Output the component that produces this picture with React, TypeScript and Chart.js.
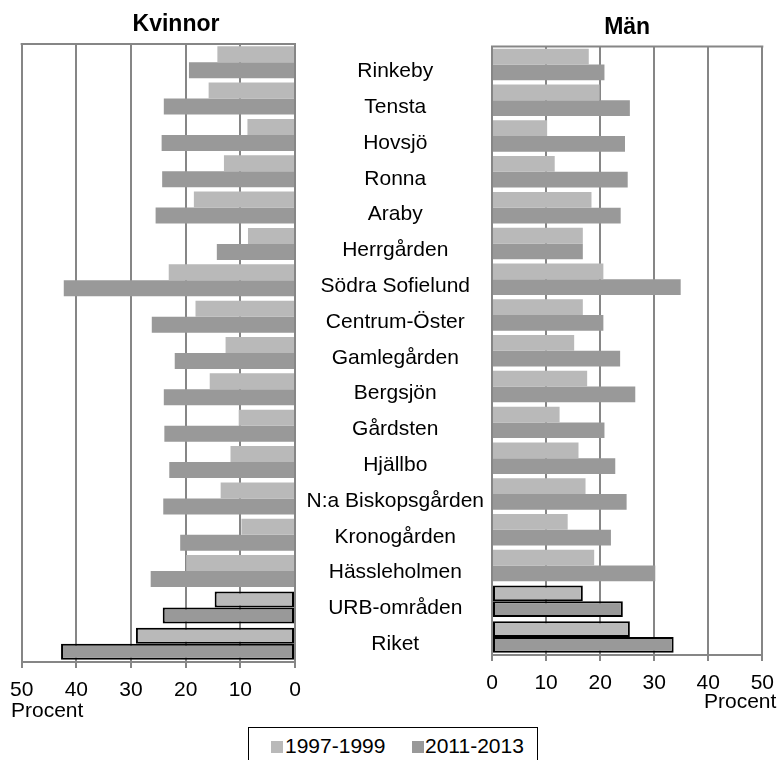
import React, { useEffect, useRef } from 'react';
import { Chart, registerables } from 'chart.js';

Chart.register(...registerables);

const categories = [
  'Rinkeby',
  'Tensta',
  'Hovsjö',
  'Ronna',
  'Araby',
  'Herrgården',
  'Södra Sofielund',
  'Centrum-Öster',
  'Gamlegården',
  'Bergsjön',
  'Gårdsten',
  'Hjällbo',
  'N:a Biskopsgården',
  'Kronogården',
  'Hässleholmen',
  'URB-områden',
  'Riket',
];

const seriesLabels = ['1997-1999', '2011-2013'];

const women1997 = [14.2, 15.8, 8.7, 13.0, 18.5, 8.6, 23.1, 18.2, 12.7, 15.6, 10.3, 11.8, 13.6, 9.8, 19.9, 14.7, 29.1];
const women2011 = [19.4, 24.0, 24.4, 24.3, 25.5, 14.3, 42.3, 26.2, 22.0, 24.0, 23.9, 23.0, 24.1, 21.0, 26.4, 24.2, 42.8];
const men1997 = [17.9, 19.9, 10.2, 11.6, 18.4, 16.8, 20.6, 16.8, 15.2, 17.6, 12.5, 16.0, 17.3, 14.0, 18.9, 16.8, 25.5];
const men2011 = [20.8, 25.5, 24.6, 25.1, 23.8, 16.8, 34.9, 20.6, 23.7, 26.5, 20.8, 22.8, 24.9, 22.0, 30.2, 24.2, 33.6];

const outlinedCategories = ['URB-områden', 'Riket'];

const axisMin = 0;
const axisMax = 50;
const axisStep = 10;

const panelTitles = ['Kvinnor', 'Män'];
const axisTitle = 'Procent';

const FONT = "'Liberation Sans', Arial, Helvetica, sans-serif";
const LIGHT = '#b9b9b9';
const DARK = '#999999';
const GRID = '#868686';

const frameTop = {
  id: 'frameTop',
  beforeDatasetsDraw(chart: any) {
    const { ctx, chartArea } = chart;
    ctx.save();
    ctx.strokeStyle = GRID;
    ctx.lineWidth = 2;
    ctx.beginPath();
    ctx.moveTo(chartArea.left - 1, chartArea.top);
    ctx.lineTo(chartArea.right + 1, chartArea.top);
    ctx.stroke();
    ctx.restore();
  },
};

function makeDatasets(early: number[], late: number[]) {
  const widths = categories.map((c) => (outlinedCategories.includes(c) ? 2 : 0));
  return [
    {
      label: seriesLabels[0],
      data: early,
      backgroundColor: LIGHT,
      borderColor: '#000000',
      borderWidth: widths,
      borderSkipped: false,
      categoryPercentage: 0.88,
      barPercentage: 1,
    },
    {
      label: seriesLabels[1],
      data: late,
      backgroundColor: DARK,
      borderColor: '#000000',
      borderWidth: widths,
      borderSkipped: false,
      categoryPercentage: 0.88,
      barPercentage: 1,
    },
  ];
}

function xScale(reverse: boolean) {
  return {
    type: 'linear',
    min: axisMin,
    max: axisMax,
    reverse,
    ticks: {
      stepSize: axisStep,
      color: '#000000',
      font: { family: FONT, size: 21 },
      padding: 10,
      maxRotation: 0,
    },
    grid: {
      color: GRID,
      lineWidth: 2,
      tickLength: 6,
      tickColor: GRID,
      tickWidth: 2,
    },
    border: { color: GRID, width: 2 },
    afterFit: (s: any) => {
      s.height = 40;
    },
  };
}

export default function App() {
  const leftRef = useRef<HTMLCanvasElement>(null);
  const rightRef = useRef<HTMLCanvasElement>(null);

  useEffect(() => {
    Chart.defaults.font.family = FONT;
    const left = new Chart(leftRef.current as HTMLCanvasElement, {
      type: 'bar',
      data: { labels: categories, datasets: makeDatasets(women1997, women2011) as any },
      plugins: [frameTop],
      options: {
        indexAxis: 'y',
        animation: false,
        responsive: false,
        maintainAspectRatio: false,
        layout: { padding: { left: 20, right: 0, top: 0, bottom: 0 } },
        plugins: {
          legend: { display: false },
          tooltip: { enabled: false },
          title: {
            display: true,
            text: panelTitles[0],
            color: '#000000',
            font: { family: FONT, size: 23, weight: 'bold' },
            padding: { top: 11, bottom: 5.4 },
          },
        },
        scales: {
          x: xScale(true) as any,
          y: {
            type: 'category',
            position: 'right',
            display: true,
            ticks: { display: false },
            grid: { display: false, drawTicks: false },
            border: { display: false },
            afterFit: (s: any) => {
              s.width = 37;
            },
          },
        },
      } as any,
    });

    const right = new Chart(rightRef.current as HTMLCanvasElement, {
      type: 'bar',
      data: { labels: categories, datasets: makeDatasets(men1997, men2011) as any },
      plugins: [frameTop],
      options: {
        indexAxis: 'y',
        animation: false,
        responsive: false,
        maintainAspectRatio: false,
        layout: { padding: { left: 0, right: 17, top: 0, bottom: 0 } },
        plugins: {
          legend: { display: false },
          tooltip: { enabled: false },
          title: {
            display: true,
            fullSize: false,
            text: panelTitles[1],
            color: '#000000',
            font: { family: FONT, size: 23, weight: 'bold' },
            padding: { top: 14, bottom: 5 },
          },
        },
        scales: {
          x: xScale(false) as any,
          y: {
            type: 'category',
            position: 'left',
            grid: { display: false, drawTicks: false },
            border: { display: true, color: GRID, width: 2 },
            ticks: {
              color: '#000000',
              font: { family: FONT, size: 21 },
              padding: 8,
              crossAlign: 'center',
              labelOffset: 7,
              autoSkip: false,
            },
            afterFit: (s: any) => {
              s.width = 212;
            },
          },
        },
      } as any,
    });

    return () => {
      left.destroy();
      right.destroy();
    };
  }, []);

  const textStyle: React.CSSProperties = {
    position: 'absolute',
    fontFamily: FONT,
    fontSize: '21px',
    lineHeight: '24px',
    color: '#000',
    whiteSpace: 'nowrap',
  };

  return (
    <div style={{ position: 'absolute', left: 0, top: 0, width: 784, height: 760, background: '#fff', overflow: 'hidden' }}>
      <canvas ref={rightRef} width={504} height={695} style={{ position: 'absolute', left: 280, top: 0 }} />
      <canvas ref={leftRef} width={332} height={702} style={{ position: 'absolute', left: 0, top: 0 }} />
      <div style={{ ...textStyle, left: 11, top: 698 }}>{axisTitle}</div>
      <div style={{ ...textStyle, left: 704, top: 689 }}>{axisTitle}</div>
      <div
        style={{
          position: 'absolute',
          left: 248,
          top: 727,
          width: 290,
          height: 50,
          border: '1px solid #000',
          boxSizing: 'border-box',
        }}
      />
      <div style={{ position: 'absolute', left: 271, top: 741, width: 12, height: 12, background: LIGHT }} />
      <div style={{ ...textStyle, left: 285, top: 734 }}>{seriesLabels[0]}</div>
      <div style={{ position: 'absolute', left: 412, top: 741, width: 12, height: 12, background: DARK }} />
      <div style={{ ...textStyle, left: 425, top: 734 }}>{seriesLabels[1]}</div>
    </div>
  );
}
